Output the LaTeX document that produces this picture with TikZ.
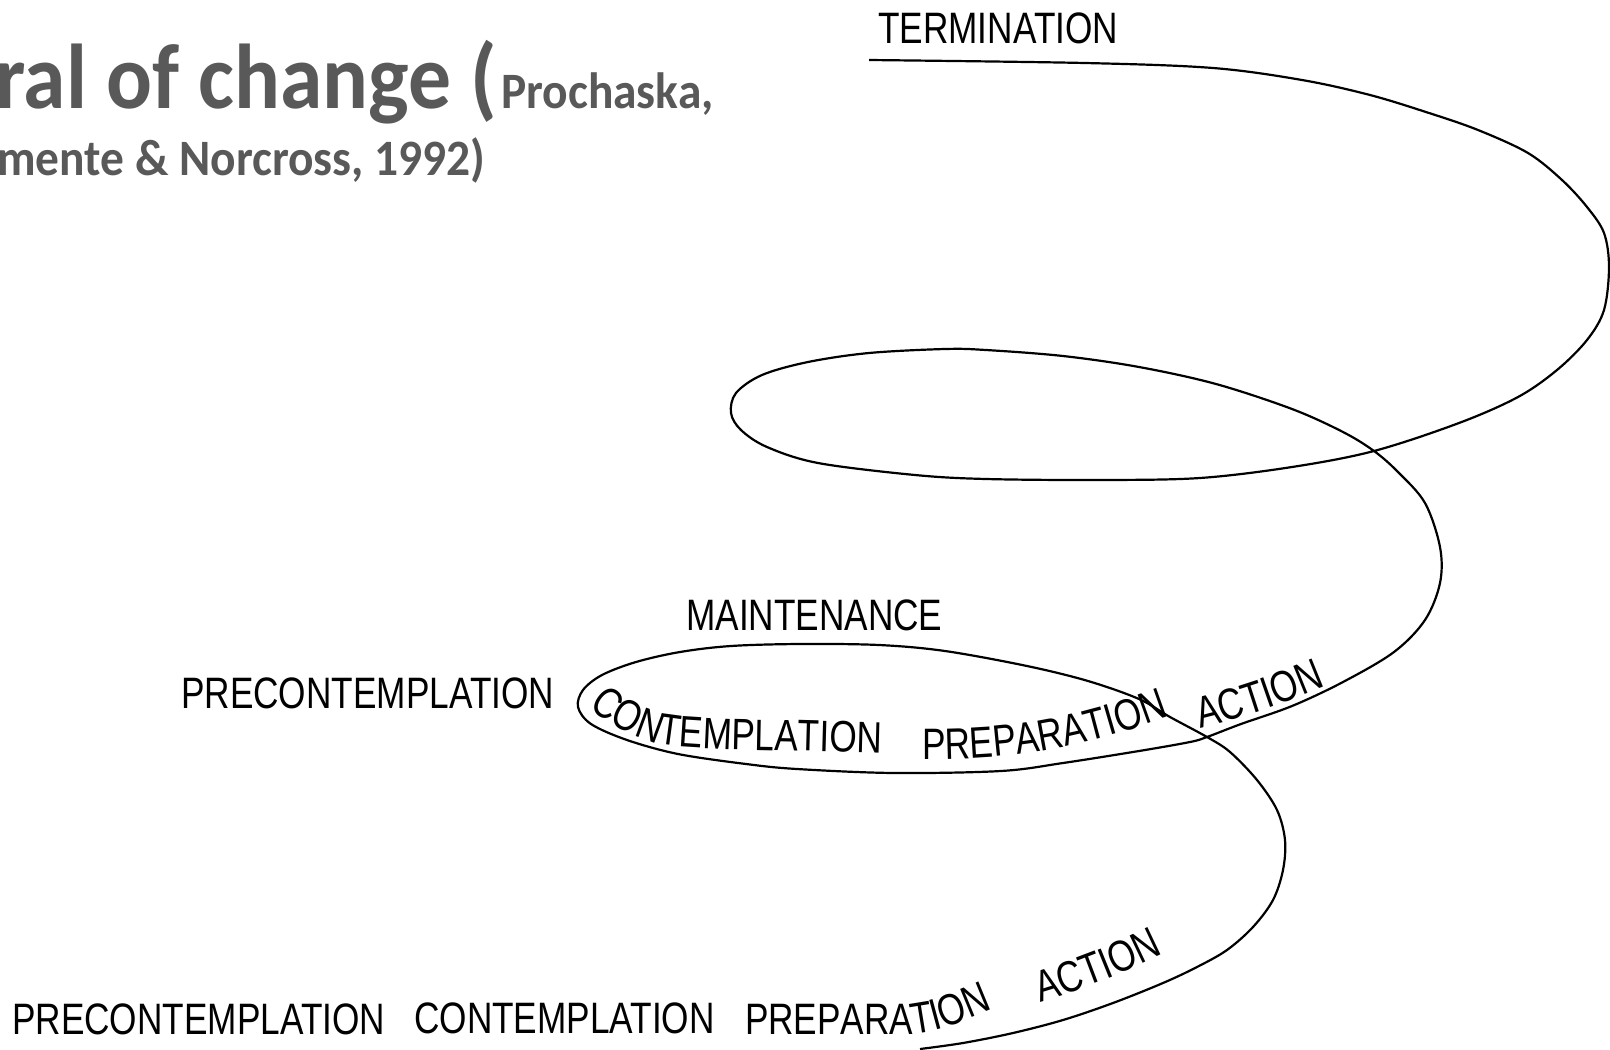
\documentclass[tikz,border=0pt]{standalone}
\usepackage{fontspec}
\setmainfont{Liberation Sans}
\newfontfamily\lblfont[FakeStretch=0.80]{Liberation Sans}
\newfontfamily\ttlfont[FakeStretch=0.93]{Carlito}
\newcommand\lblsize{\lblfont\fontsize{44}{50}\selectfont}
\usetikzlibrary{decorations.text}
\definecolor{titlegray}{RGB}{89,89,89}
\begin{document}
\begin{tikzpicture}[x=1pt,y=-1pt,
  lbl/.style={font=\lblsize, inner sep=0pt, anchor=base west},
  ttlbig/.style={font=\ttlfont\bfseries\fontsize{92}{96}\selectfont, text=titlegray, inner sep=0pt, anchor=base west},
  ttlsmall/.style={font=\ttlfont\bfseries\fontsize{51}{56}\selectfont, text=titlegray, inner sep=0pt, anchor=base west},
  spiral/.style={draw=black, line width=2.2pt, line join=round},
  curvedlbl/.style={decorate, decoration={text along path, text={|\lblsize|#1}}}]
\useasboundingbox[fill=white] (0,0) rectangle (1610,1050);

% title
\node[ttlbig] (t1) at (-5,108) {ral of change (};
\node[ttlsmall] (t2) at (501,108) {Prochaska,};
\node[ttlsmall] (t3) at (-3,175) {mente \& Norcross, 1992)};

% spiral
\draw[spiral] plot[smooth, tension=0.55] coordinates {
 (920,1049) (963,1043) (1013,1033) (1063,1020) (1113,1003) (1163,983) (1197,967)
 (1227,950) (1253,927) (1273,900) (1283,870) (1285,840) (1277,810) (1257,780)
 (1230,752) (1207,737) (1170,717) (1139,699) (1088,681) (1027,666) (945,651)
 (879,645) (800,644) (731,646) (680,652) (636,662) (602,675) (583,690) (578,707)
 (591,724) (627,740) (678,754) (746,764) (797,769) (894,773) (1001,771) (1063,763)
 (1139,751) (1190,742) (1207,737) (1241,724) (1292,706) (1343,682) (1394,652)
 (1425,620) (1440,583) (1440,547) (1425,503) (1398,472) (1374,451) (1343,432)
 (1292,409) (1216,384) (1139,367) (1063,356) (986,350) (945,349) (869,353)
 (808,362) (762,375) (736,393) (731,413) (741,430) (767,447) (818,463) (915,475)
 (986,479) (1100,480) (1200,478) (1292,467) (1374,451) (1459,423) (1518,397)
 (1557,370) (1587,340) (1604,310) (1609,267) (1604,233) (1587,207) (1562,180)
 (1528,153) (1478,130) (1429,113) (1370,95) (1302,80) (1213,68) (1085,63) (869,60)};

% straight labels
\node[lbl] (term) at (878,43) {TERMINATION};
\node[lbl] (maint) at (686,630) {MAINTENANCE};
\node[lbl] (preA) at (181,708) {PRECONTEMPLATION};
\node[lbl] (preB) at (12,1034) {PRECONTEMPLATION};
\node[lbl] (conB) at (414,1033) {CONTEMPLATION};

% curved labels
\path[curvedlbl=CONTEMPLATION] plot[smooth, tension=0.6] coordinates {
 (589,707) (610,723) (635,736) (665,745) (720,749) (800,751) (910,754)};
\path[curvedlbl=PREPARATION] (922,759) .. controls (1010,760) and (1080,750) .. (1175,714);
\path[curvedlbl=ACTION] (1200,728) .. controls (1240,718) and (1280,706) .. (1340,680);
\path[curvedlbl=PREPARATION] (745,1034) -- (905,1034) .. controls (930,1034) and (955,1026) .. (1005,1004);
\path[curvedlbl=ACTION] (1040,1002) .. controls (1080,990) and (1120,976) .. (1175,948);
\end{tikzpicture}
\end{document}
